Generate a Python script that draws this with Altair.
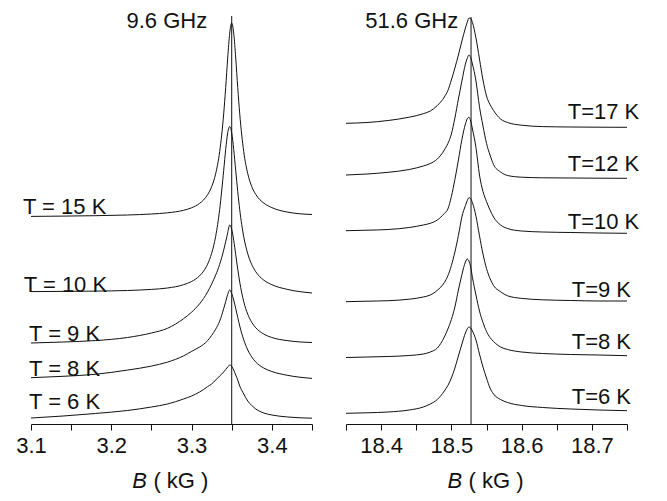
import altair as alt
import pandas as pd

FONT = "Liberation Sans"
INK = "#111111"

# ---------------- 9.6 GHz panel (B in kG, signal in arbitrary units) ----------------
B_LEFT = [3.10, 3.14, 3.18, 3.22, 3.25, 3.27, 3.29, 3.30, 3.31, 3.315, 3.32, 3.325, 3.33, 3.335,
          3.34, 3.3425, 3.345, 3.3475, 3.35, 3.3525, 3.355, 3.3575, 3.36, 3.365, 3.37, 3.375,
          3.38, 3.39, 3.40, 3.42, 3.45]
L_T15 = [207.6, 207.9, 208.3, 209.0, 210.0, 211.2, 213.7, 216.2, 220.6, 224.1, 229.4, 237.3, 250.3, 272.3,
         310.1, 336.5, 365.9, 390.8, 401.0, 390.8, 365.9, 336.5, 310.1, 272.3, 250.3, 237.3,
         229.5, 220.9, 216.4, 211.8, 209.5]
L_T10 = [132.4, 132.6, 132.9, 133.5, 134.6, 136.0, 139.3, 142.5, 148.2, 152.9, 159.9, 170.7, 187.6, 214.5,
         253.5, 274.6, 291.2, 297.5, 291.1, 274.5, 253.3, 232.5, 214.2, 187.2, 170.2, 159.3,
         152.2, 143.8, 139.3, 134.5, 131.0]
L_T9 = [81.0, 82.0, 83.4, 86.5, 91.0, 95.7, 105.3, 111.8, 120.2, 125.6, 132.1, 139.9, 148.9, 159.6,
        173.9, 182.3, 191.2, 199.0, 194.8, 183.7, 169.4, 154.8, 141.9, 122.3, 109.7, 101.6,
        96.2, 89.9, 86.5, 83.3, 81.5]
L_T8 = [46.3, 47.7, 49.7, 53.9, 57.9, 61.9, 68.1, 72.6, 77.0, 79.7, 83.3, 88.6, 94.8, 102.9,
        115.3, 122.4, 129.6, 134.0, 130.4, 123.9, 115.5, 106.6, 98.0, 84.1, 74.0, 66.9,
        61.9, 55.9, 52.5, 48.6, 45.6]
L_T6 = [6.0, 8.0, 10.5, 13.5, 17.0, 20.0, 25.0, 28.0, 32.0, 34.5, 37.5, 40.0, 44.0, 48.0,
        52.0, 54.5, 57.0, 59.0, 57.5, 54.0, 49.0, 44.0, 38.0, 30.0, 23.0, 18.5,
        15.0, 11.0, 9.0, 7.0, 5.8]
LEFT_CURVES = {"T15": L_T15, "T10": L_T10, "T9": L_T9, "T8": L_T8, "T6": L_T6}
LEFT_LABELS = ["T = 15 K", "T = 10 K", "T = 9 K", "T = 8 K", "T = 6 K"]
LEFT_LABEL_B = [3.090, 3.091, 3.0975, 3.0975, 3.0975]
LEFT_LABEL_S = [217.0, 139.5, 89.7, 54.7, 22.2]
LEFT_TICKS = [3.10, 3.15, 3.20, 3.25, 3.30, 3.35, 3.40, 3.45]
LEFT_DOMAIN = [3.10, 3.45]
LEFT_LINE_B = 3.35
LEFT_LINE_TOP = 408.0
LEFT_TITLE = "9.6 GHz"
LEFT_TITLE_B = 3.2692

# ---------------- 51.6 GHz panel ----------------
B_RIGHT = [18.35, 18.38, 18.41, 18.44, 18.46, 18.47, 18.48, 18.49, 18.495, 18.50, 18.505, 18.51,
           18.515, 18.52, 18.5225, 18.525, 18.5275, 18.53, 18.535, 18.54, 18.545, 18.55, 18.555,
           18.56, 18.57, 18.58, 18.60, 18.63, 18.67, 18.71, 18.75]
R_T17 = [300.7, 301.5, 303.5, 306.8, 310.3, 313.0, 318.5, 327.0, 333.5, 344.0, 356.0, 369.0,
         383.0, 396.0, 401.5, 406.0, 405.5, 401.5, 386.0, 365.0, 344.0, 328.0, 319.5,
         313.5, 305.0, 301.5, 298.8, 297.4, 297.0, 296.8, 296.7]
R_T12 = [249.0, 250.0, 251.7, 254.5, 258.0, 260.5, 265.0, 274.0, 280.5, 290.0, 306.0, 325.0,
         343.0, 360.0, 365.5, 369.0, 366.5, 360.0, 343.0, 317.3, 298.0, 280.7, 269.0,
         259.5, 252.0, 248.5, 246.8, 246.2, 246.0, 245.8, 245.7]
R_T10 = [193.3, 193.8, 194.5, 196.5, 199.0, 200.7, 204.0, 210.5, 215.0, 227.5, 244.5, 264.0,
         284.5, 300.0, 305.0, 306.7, 303.0, 295.0, 276.5, 249.0, 232.5, 222.5, 214.0,
         207.0, 199.0, 195.5, 193.0, 192.0, 191.5, 191.0, 190.7]
R_T9 = [122.3, 122.8, 123.3, 124.8, 127.0, 129.0, 133.7, 141.5, 148.2, 158.5, 172.0, 188.5,
        207.2, 218.5, 223.2, 226.3, 225.3, 221.3, 207.8, 188.3, 170.0, 155.5, 145.5,
        138.5, 132.3, 128.2, 125.6, 124.2, 123.5, 123.0, 123.0]
R_T8 = [66.5, 67.0, 67.5, 68.5, 70.0, 72.0, 76.0, 87.0, 95.0, 104.5, 117.0, 134.0,
        149.5, 162.0, 165.0, 163.0, 157.0, 146.5, 129.0, 113.0, 101.5, 92.5, 86.5,
        82.5, 77.0, 74.5, 72.0, 70.5, 69.5, 69.0, 68.3]
R_T6 = [10.7, 11.2, 12.0, 14.0, 17.0, 20.0, 24.5, 33.0, 38.5, 46.0, 56.0, 68.0,
        80.0, 91.0, 95.0, 97.0, 96.0, 93.0, 84.0, 70.0, 57.0, 46.0, 36.0,
        30.0, 24.5, 21.5, 18.5, 16.5, 15.0, 14.0, 13.3]
RIGHT_CURVES = {"T17": R_T17, "T12": R_T12, "T10": R_T10, "T9": R_T9, "T8": R_T8, "T6": R_T6}
RIGHT_LABELS = ["T=17 K", "T=12 K", "T=10 K", "T=9 K", "T=8 K", "T=6 K"]
RIGHT_LABEL_B = [18.7675, 18.7675, 18.7675, 18.7557, 18.7557, 18.7557]
RIGHT_LABEL_S = [312.0, 260.2, 202.0, 133.7, 81.9, 26.9]
RIGHT_TICKS = [18.35, 18.40, 18.45, 18.50, 18.55, 18.60, 18.65, 18.70, 18.75]
RIGHT_DOMAIN = [18.35, 18.75]
RIGHT_LINE_B = 18.528
RIGHT_LINE_TOP = 407.0
RIGHT_TITLE = "51.6 GHz"
RIGHT_TITLE_B = 18.4436

Y_DOMAIN = [0, 416]
TITLE_S = 413.5
AXIS_TITLE_S = -57.0
LEFT_AXIS_B = (3.2262, 3.2525)
RIGHT_AXIS_B = (18.4944, 18.5245)

W, H = 281, 416


def panel(xs, curves, domain, ticks, labels, label_b, label_s, label_align,
          line_b, line_top, title, title_b, axis_b):
    rows = [{"B": b, "S": s, "curve": name}
            for name, ys in curves.items() for b, s in zip(xs, ys)]
    df = pd.DataFrame(rows)
    xenc = alt.X("B:Q", scale=alt.Scale(domain=domain, nice=False, zero=False),
                 axis=alt.Axis(values=ticks, title=None, grid=False,
                               labelExpr="round(datum.value*20) % 2 == 0 ? format(datum.value, '.1f') : ''",
                               labelOverlap=False, labelFlush=False,
                               labelFontSize=22, labelFont=FONT, labelColor=INK,
                               labelPadding=5, tickSize=6, tickColor=INK, tickWidth=1,
                               domainColor=INK, domainWidth=1))
    yenc = alt.Y("S:Q", scale=alt.Scale(domain=Y_DOMAIN, nice=False, zero=False), axis=None)

    lines = alt.Chart(df).mark_line(color=INK, strokeWidth=1, interpolate="monotone").encode(
        x=xenc, y=yenc, detail="curve:N")

    vdf = pd.DataFrame({"B": [line_b], "S": [0.0], "S2": [line_top]})
    vline = alt.Chart(vdf).mark_rule(color=INK, strokeWidth=1).encode(x=xenc, y=yenc, y2="S2:Q")

    ldf = pd.DataFrame({"B": label_b, "S": label_s, "txt": labels})
    ltext = alt.Chart(ldf).mark_text(align=label_align, baseline="middle", fontSize=22,
                                     font=FONT, color=INK).encode(x=xenc, y=yenc, text="txt:N")

    tdf = pd.DataFrame({"B": [title_b], "S": [TITLE_S], "txt": [title]})
    ttext = alt.Chart(tdf).mark_text(align="center", baseline="top", fontSize=22,
                                     font=FONT, color=INK).encode(x=xenc, y=yenc, text="txt:N")

    bdf = pd.DataFrame({"B": [axis_b[0]], "S": [AXIS_TITLE_S], "txt": ["B"]})
    btext = alt.Chart(bdf).mark_text(align="left", baseline="middle", fontSize=22, fontStyle="italic",
                                     font=FONT, color=INK).encode(x=xenc, y=yenc, text="txt:N")
    kdf = pd.DataFrame({"B": [axis_b[1]], "S": [AXIS_TITLE_S], "txt": ["( kG )"]})
    ktext = alt.Chart(kdf).mark_text(align="left", baseline="middle", fontSize=22,
                                     font=FONT, color=INK).encode(x=xenc, y=yenc, text="txt:N")

    return alt.layer(lines, vline, ltext, ttext, btext, ktext).properties(width=W, height=H)


left = panel(B_LEFT, LEFT_CURVES, LEFT_DOMAIN, LEFT_TICKS, LEFT_LABELS, LEFT_LABEL_B, LEFT_LABEL_S,
             "left", LEFT_LINE_B, LEFT_LINE_TOP, LEFT_TITLE, LEFT_TITLE_B, LEFT_AXIS_B)
right = panel(B_RIGHT, RIGHT_CURVES, RIGHT_DOMAIN, RIGHT_TICKS, RIGHT_LABELS, RIGHT_LABEL_B, RIGHT_LABEL_S,
              "right", RIGHT_LINE_B, RIGHT_LINE_TOP, RIGHT_TITLE, RIGHT_TITLE_B, RIGHT_AXIS_B)

chart = alt.hconcat(left, right, spacing=34, bounds="flush").properties(
    padding={"left": 7, "top": 0, "right": 5, "bottom": 5},
    background="white",
).configure_view(stroke=None)

chart.save("out.html", embed_options={"renderer": "svg", "actions": False})
